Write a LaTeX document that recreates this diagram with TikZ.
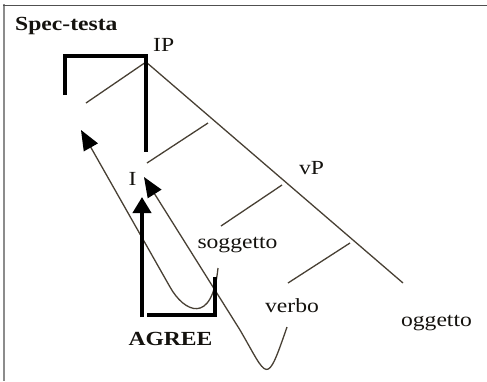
\documentclass[tikz,border=0pt]{standalone}
\usepackage{fontspec}
\setmainfont{Liberation Serif}[FakeStretch=1.18]
\usetikzlibrary{arrows.meta}
\definecolor{thinc}{RGB}{72,64,52}
\definecolor{txt}{RGB}{20,18,14}
\definecolor{framel}{RGB}{140,140,140}
\definecolor{framet}{RGB}{80,80,80}
\begin{document}
\begin{tikzpicture}[x=1pt,y=-1pt,
  lbl/.style={inner sep=0pt, font=\fontsize{20}{24}\selectfont, text=txt},
  bl/.style={inner sep=0pt, font=\fontsize{20}{24}\selectfont\bfseries, text=txt},
  branch/.style={draw=thinc, line width=1.3pt},
  heavy/.style={draw=black, line width=4pt, line join=miter},
  movetip/.style={-{Triangle[length=20pt,width=16pt,color=black]}},
  agreetip/.style={-{Triangle[length=16pt,width=18pt]}}
]
\useasboundingbox (0,0) rectangle (487,381);
% frame
\draw[framel, line width=2.5pt] (4,4) -- (4,381);
\draw[framet, line width=1.8pt] (3,5.5) -- (487,5.5);

% labels
\node[bl, anchor=base west] (spec) at (15,30) {Spec-testa};
\node[lbl, anchor=base west] (IP) at (153,51) {IP};
\node[lbl, anchor=base] (I) at (132.5,185) {I};
\node[lbl, anchor=base] (vP) at (311.5,174) {vP};
\node[lbl, anchor=base] (sogg) at (237.5,248) {soggetto};
\node[lbl, anchor=base] (verbo) at (292,312) {verbo};
\node[lbl, anchor=base] (ogg) at (436.5,326) {oggetto};
\node[bl, anchor=base] (agree) at (170.5,345) {AGREE};

% tree coordinates
\coordinate (top) at (146,62);
\coordinate (diagEnd) at (403,283);
\coordinate (specSlot) at (86,103);
\coordinate (b1a) at (147,163); \coordinate (b1b) at (208,123);
\coordinate (b2a) at (221,226); \coordinate (b2b) at (282,185);
\coordinate (b3a) at (288,283); \coordinate (b3b) at (350,243);

\draw[branch] (top) -- (diagEnd);
\draw[branch] (top) -- (specSlot);
\draw[branch] (b1a) -- (b1b);
\draw[branch] (b2a) -- (b2b);
\draw[branch] (b3a) -- (b3b);

% thick spec-head bracket
\coordinate (brL) at (65,95);
\coordinate (brLT) at (65,56);
\coordinate (brRT) at (146,56);
\coordinate (brR) at (146,152);
\draw[heavy] (brL) -- (brLT) -- (brRT) -- (brR);

% movement arrows
\coordinate (sStart) at (218,268);
\coordinate (sJoin) at (170,287);
\coordinate (sTip) at (81,130);
\draw[branch, movetip] (sStart) .. controls (212,326) and (184,312) .. (sJoin) -- (sTip);

\coordinate (vStart) at (287,327);
\coordinate (vJoin) at (240,330);
\coordinate (vTip) at (144,177);
\draw[branch, movetip] (vStart) .. controls (266,388) and (268,378) .. (vJoin) -- (vTip);

% AGREE bracket
\coordinate (agL) at (142,317);
\coordinate (agTip) at (142,197);
\coordinate (agB) at (147,315);
\coordinate (agBR) at (215,315);
\coordinate (agR) at (215,277);
\draw[heavy, line cap=butt] (agB) -- (agBR) -- (agR);
\draw[heavy, agreetip] (agL) -- (agTip);
\end{tikzpicture}
\end{document}
